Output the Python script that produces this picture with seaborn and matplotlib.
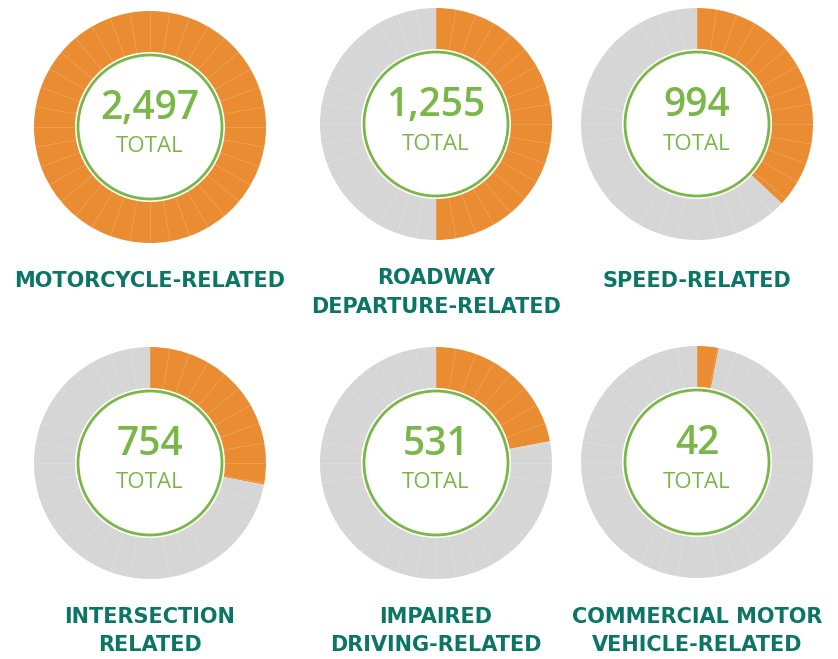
import numpy as np
import matplotlib
matplotlib.use("Agg")
import matplotlib.pyplot as plt
import seaborn as sns

# Fatality counts per category (values printed in the centres)
totals = [2497, 1255, 994, 754, 531, 42]
# Filled share of each ring
shares = [1.00, 0.50, 0.37, 0.28, 0.22, 0.03]
labels = ["MOTORCYCLE-RELATED", "ROADWAY\nDEPARTURE-RELATED", "SPEED-RELATED",
          "INTERSECTION\nRELATED", "IMPAIRED\nDRIVING-RELATED",
          "COMMERCIAL MOTOR\nVEHICLE-RELATED"]

sns.set_theme(style="white")
plt.rcParams['font.family'] = ['Open Sans', 'DejaVu Sans']

orange = '#EA8C32'
grey = '#D6D6D6'
green = '#7AB648'
teal = '#0B7566'

W, H = 838, 659
fig = plt.figure(figsize=(W / 100, H / 100), dpi=100)
ax = fig.add_axes([0, 0, 1, 1])

# ring centres in pixel coordinates (x, y from top)
centres = [(150, 127), (436, 124), (697, 124),
           (150, 463), (436, 463), (697, 462)]
label_y = [[281], [278, 307], [281], [617, 645], [617, 645], [617, 645]]
r_out, r_in, r_green = 116, 75, 72
n_seg = 36

for i, (cx, cy) in enumerate(centres):
    c = (cx, H - cy)
    s = shares[i]
    vals = [s, 1 - s] if s < 1 else [1]
    cols = [orange, grey] if s < 1 else [orange]
    ax.pie(vals, colors=cols, center=c, radius=r_out, startangle=90,
           counterclock=False, wedgeprops=dict(width=r_out - r_in, linewidth=0))
    # faint separators between segments
    for k in range(n_seg):
        a = np.deg2rad(90 - k * 360 / n_seg)
        ax.plot([c[0] + r_in * np.cos(a), c[0] + r_out * np.cos(a)],
                [c[1] + r_in * np.sin(a), c[1] + r_out * np.sin(a)],
                color='white', lw=0.5, alpha=0.22)
    ax.add_patch(plt.Circle(c, r_green, fill=False, ec=green, lw=2))
    ax.text(c[0], c[1] + 18, f"{totals[i]:,}", ha='center', va='center',
            fontsize=28, color=green, fontweight='semibold')
    ax.text(c[0], c[1] - 20, "TOTAL", ha='center', va='center',
            fontsize=16, color=green, fontweight='medium')
    for line, ly in zip(labels[i].split("\n"), label_y[i]):
        ax.text(cx, H - ly, line, ha='center', va='center', fontsize=15,
                color=teal, fontweight='bold', family=['DejaVu Sans'])

ax.set_xlim(0, W)
ax.set_ylim(0, H)
ax.set_aspect('equal')
ax.axis('off')

fig.savefig('out.png', dpi=100)
